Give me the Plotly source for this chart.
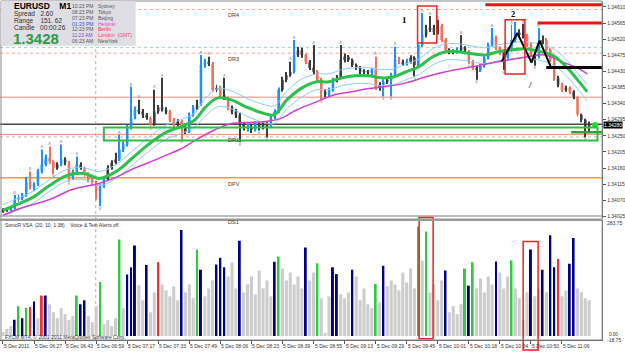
import plotly.graph_objects as go

W, H = 625, 352


def pxx(v):
    return v / W


def pxy(v):
    return 1 - v / H


# ---------------- price data (EURUSD, 2-minute candles) -------------
first_open = 1.34040
close = [1.34042, 1.34044, 1.34047, 1.34072, 1.34078, 1.34083, 1.34122, 1.34106, 1.34114, 1.34150,
         1.34170, 1.34189, 1.34178, 1.34161, 1.34170, 1.34184, 1.34175, 1.34134, 1.34150, 1.34170,
         1.34161, 1.34142, 1.34128, 1.34120, 1.34095, 1.34109, 1.34128, 1.34161, 1.34175, 1.34184,
         1.34212, 1.34226, 1.34273, 1.34301, 1.34323, 1.34318, 1.34309, 1.34301, 1.34281, 1.34318,
         1.34329, 1.34323, 1.34318, 1.34295, 1.34281, 1.34290, 1.34273, 1.34262, 1.34309, 1.34329,
         1.34337, 1.34448, 1.34457, 1.34451, 1.34379, 1.34384, 1.34365, 1.34356, 1.34329, 1.34318,
         1.34309, 1.34281, 1.34273, 1.34276, 1.34267, 1.34281, 1.34273, 1.34284, 1.34276, 1.34301,
         1.34318, 1.34379, 1.34407, 1.34420, 1.34429, 1.34476, 1.34490, 1.34476, 1.34457, 1.34440,
         1.34429, 1.34407, 1.34373, 1.34365, 1.34379, 1.34407, 1.34412, 1.34462, 1.34471, 1.34462,
         1.34448, 1.34440, 1.34429, 1.34429, 1.34426, 1.34434, 1.34384, 1.34393, 1.34401, 1.34407,
         1.34420, 1.34462, 1.34457, 1.34451, 1.34457, 1.34468, 1.34448, 1.34504, 1.34532, 1.34546,
         1.34551, 1.34540, 1.34557, 1.34518, 1.34490, 1.34485, 1.34485, 1.34490, 1.34496, 1.34485,
         1.34457, 1.34440, 1.34434, 1.34446, 1.34468, 1.34504, 1.34524, 1.34496, 1.34482, 1.34468,
         1.34490, 1.34518, 1.34532, 1.34538, 1.34529, 1.34504, 1.34476, 1.34471, 1.34512, 1.34518,
         1.34490, 1.34462, 1.34412, 1.34393, 1.34379, 1.34384, 1.34373, 1.34359, 1.34309, 1.34295,
         1.34276, 1.34280]
high = [1.34048, 1.34050, 1.34055, 1.34085, 1.34086, 1.34090, 1.34135, 1.34150, 1.34120, 1.34158,
        1.34212, 1.34198, 1.34220, 1.34182, 1.34176, 1.34226, 1.34190, 1.34180, 1.34156, 1.34192,
        1.34176, 1.34165, 1.34148, 1.34133, 1.34125, 1.34115, 1.34135, 1.34168, 1.34182, 1.34203,
        1.34253, 1.34235, 1.34280, 1.34387, 1.34332, 1.34351, 1.34325, 1.34314, 1.34305, 1.34379,
        1.34336, 1.34412, 1.34330, 1.34322, 1.34300, 1.34296, 1.34295, 1.34278, 1.34315, 1.34336,
        1.34351, 1.34476, 1.34465, 1.34471, 1.34456, 1.34393, 1.34390, 1.34412, 1.34360, 1.34335,
        1.34325, 1.34315, 1.34288, 1.34284, 1.34282, 1.34290, 1.34287, 1.34290, 1.34290, 1.34306,
        1.34324, 1.34385, 1.34415, 1.34428, 1.34457, 1.34518, 1.34498, 1.34496, 1.34480, 1.34462,
        1.34504, 1.34434, 1.34412, 1.34380, 1.34385, 1.34412, 1.34420, 1.34504, 1.34480, 1.34476,
        1.34466, 1.34452, 1.34445, 1.34436, 1.34434, 1.34440, 1.34471, 1.34400, 1.34408, 1.34413,
        1.34426, 1.34499, 1.34470, 1.34463, 1.34465, 1.34475, 1.34472, 1.34510, 1.34593, 1.34560,
        1.34585, 1.34560, 1.34574, 1.34563, 1.34523, 1.34495, 1.34492, 1.34497, 1.34532, 1.34500,
        1.34490, 1.34462, 1.34445, 1.34452, 1.34474, 1.34510, 1.34551, 1.34530, 1.34500, 1.34487,
        1.34497, 1.34560, 1.34568, 1.34548, 1.34563, 1.34535, 1.34510, 1.34480, 1.34551, 1.34530,
        1.34523, 1.34495, 1.34466, 1.34418, 1.34398, 1.34390, 1.34388, 1.34377, 1.34362, 1.34312,
        1.34298, 1.34290]
low = [1.34035, 1.34038, 1.34040, 1.34044, 1.34066, 1.34070, 1.34080, 1.34100, 1.34095, 1.34110,
       1.34145, 1.34165, 1.34172, 1.34142, 1.34155, 1.34165, 1.34168, 1.34122, 1.34128, 1.34145,
       1.34155, 1.34136, 1.34120, 1.34112, 1.34072, 1.34053, 1.34104, 1.34124, 1.34155, 1.34170,
       1.34180, 1.34205, 1.34220, 1.34268, 1.34296, 1.34310, 1.34300, 1.34295, 1.34276, 1.34278,
       1.34312, 1.34318, 1.34310, 1.34288, 1.34275, 1.34276, 1.34240, 1.34255, 1.34258, 1.34303,
       1.34323, 1.34333, 1.34440, 1.34445, 1.34373, 1.34372, 1.34358, 1.34350, 1.34322, 1.34310,
       1.34300, 1.34232, 1.34265, 1.34262, 1.34258, 1.34262, 1.34265, 1.34268, 1.34245, 1.34272,
       1.34296, 1.34313, 1.34373, 1.34400, 1.34415, 1.34424, 1.34470, 1.34468, 1.34450, 1.34434,
       1.34422, 1.34400, 1.34351, 1.34358, 1.34360, 1.34374, 1.34400, 1.34408, 1.34455, 1.34456,
       1.34442, 1.34434, 1.34423, 1.34422, 1.34420, 1.34420, 1.34378, 1.34376, 1.34360, 1.34395,
       1.34360, 1.34415, 1.34450, 1.34445, 1.34446, 1.34452, 1.34415, 1.34444, 1.34498, 1.34525,
       1.34540, 1.34532, 1.34533, 1.34512, 1.34483, 1.34478, 1.34478, 1.34480, 1.34486, 1.34478,
       1.34450, 1.34434, 1.34407, 1.34428, 1.34440, 1.34463, 1.34498, 1.34490, 1.34475, 1.34434,
       1.34462, 1.34485, 1.34512, 1.34526, 1.34522, 1.34498, 1.34470, 1.34446, 1.34466, 1.34506,
       1.34484, 1.34456, 1.34404, 1.34386, 1.34372, 1.34373, 1.34366, 1.34352, 1.34303, 1.34288,
       1.34245, 1.34262]
# candle colour: b = blue, r = salmon, k = dark
candle_tags = ("kkbbbbbrbb" "bbrrkbkrbb" "krrrrbbkkk" "bbbbbkkkrk" "kkkrrkrkbb"
               "kbbkrkrkrk" "kkkbkbkkkb" "bbkkkbkkrk" "krrkbbkkkk" "kkkkkbrkbk"
               "bbrkbkkbbk" "kkkrrkkbkk" "rrkbbbbrrk" "bbbkkrrkbk" "rrrkrkrkrkkk")

# fractal markers (candle numbers)
up_fractals = [3, 7, 10, 12, 15, 19, 30, 33, 35, 39, 41, 51, 53, 57, 74, 75, 80, 87, 96, 101,
               108, 110, 112, 118, 126, 131, 134, 138]
down_fractals = [5, 13, 17, 25, 38, 46, 61, 66, 68, 82, 98, 100, 106, 120, 122, 129, 137, 150]

# ---------------- moving averages (bar index, price) ----------------
ma_x = [0, 8.7, 15.3, 24, 32.7, 41.8, 49.5, 58.2, 66.3, 75, 83.7, 91.8, 99, 104.1, 110.7,
        117.3, 126, 134.7, 139.8, 146.4, 154.1, 161.7, 167.9, 174.5, 181.1, 188.3, 194.9,
        201.5, 207.7, 214.3, 221.4, 228.1, 234.7, 241.8, 248.5, 255.1, 262.2, 268.9, 275.5,
        282.7, 289.3, 295.9, 301]
ma_green = [1.34042, 1.34061, 1.34078, 1.34111, 1.34139, 1.34145, 1.34131, 1.34150, 1.34186,
            1.34226, 1.34259, 1.34276, 1.34295, 1.34329, 1.34356, 1.34351, 1.34329, 1.34312,
            1.34309, 1.34351, 1.34384, 1.34401, 1.34401, 1.34412, 1.34418, 1.34418, 1.34412,
            1.34415, 1.34429, 1.34443, 1.34471, 1.34485, 1.34485, 1.34479, 1.34476, 1.34485,
            1.34490, 1.34493, 1.34487, 1.34476, 1.34448, 1.34407, 1.34373]
band_up = [1.34058, 1.34078, 1.34095, 1.34128, 1.34156, 1.34161, 1.34150, 1.34170, 1.34206,
           1.34245, 1.34279, 1.34295, 1.34315, 1.34354, 1.34382, 1.34376, 1.34354, 1.34337,
           1.34334, 1.34376, 1.34409, 1.34423, 1.34423, 1.34435, 1.34440, 1.34440, 1.34435,
           1.34437, 1.34451, 1.34465, 1.34493, 1.34507, 1.34507, 1.34501, 1.34496, 1.34504,
           1.34510, 1.34513, 1.34507, 1.34496, 1.34468, 1.34426, 1.34393]
band_dn = [1.34025, 1.34045, 1.34061, 1.34095, 1.34123, 1.34128, 1.34111, 1.34131, 1.34167,
           1.34206, 1.34240, 1.34256, 1.34276, 1.34304, 1.34331, 1.34326, 1.34304, 1.34287,
           1.34284, 1.34326, 1.34359, 1.34379, 1.34379, 1.34390, 1.34396, 1.34396, 1.34390,
           1.34393, 1.34407, 1.34421, 1.34448, 1.34462, 1.34462, 1.34457, 1.34451, 1.34460,
           1.34465, 1.34468, 1.34462, 1.34451, 1.34423, 1.34382, 1.34348]
slow_x = [0, 8.7, 24, 35.7, 49.5, 58.2, 66.3, 75, 83.7, 91.8, 100.5, 109.2, 117.3, 126, 134.7,
          142.9, 151.5, 160.2, 170.9, 179.6, 188.3, 196.4, 207.7, 217.9, 228.1, 241.8, 255.1,
          267.3, 279.1, 287.8, 295.9, 301]
slow_ma = [1.34028, 1.34047, 1.34072, 1.34100, 1.34117, 1.34134, 1.34156, 1.34175, 1.34195,
           1.34214, 1.34242, 1.34267, 1.34284, 1.34287, 1.34290, 1.34298, 1.34323, 1.34342,
           1.34365, 1.34373, 1.34382, 1.34387, 1.34398, 1.34415, 1.34429, 1.34443, 1.34457,
           1.34468, 1.34476, 1.34457, 1.34440, 1.34423]

# ---------------- volume (SonicR VSA) ----------------
volume = [10, 18, 25, 41, 75, 45, 71, 73, 87, 45,
          102, 102, 80, 60, 45, 70, 55, 40, 50, 102,
          80, 90, 50, 35, 75, 136, 30, 40, 25, 45,
          243, 70, 155, 173, 228, 128, 90, 179, 60, 110,
          186, 130, 115, 100, 125, 90, 267, 110, 130, 95,
          218, 167, 100, 120, 140, 180, 197, 173, 150, 185,
          120, 240, 110, 130, 150, 105, 165, 120, 140, 100,
          187, 200, 170, 140, 160, 130, 150, 120, 223, 140,
          160, 183, 95, 8, 100, 173, 156, 105, 95, 110,
          167, 150, 90, 120, 80, 70, 131, 85, 177, 125,
          140, 130, 115, 160, 135, 170, 120, 276, 190, 263,
          110, 130, 90, 140, 165, 60, 75, 55, 80, 170,
          127, 186, 120, 145, 110, 150, 130, 188, 160, 120,
          150, 190, 120, 95, 40, 110, 218, 100, 120, 167,
          110, 254, 173, 194, 100, 115, 182, 247, 120, 110, 95, 90]
# g = gray, n = navy, e = green, r = red
volume_tags = ("gggnenerng" "rnggggggge" "nngggegggg" "egnnnggngg" "rgggggnggg"
               "engggnnngg" "gngggggggg" "neggggggng" "gegggnnggg" "ngggggegng"
               "gggggggege" "ggggngggge" "negggggngg" "geggggnggn" "gnnrggnngggg")

# ---------------- axes texts ----------------
time_tick_idx = [0, 16, 32, 48, 64, 80, 96, 112, 128, 144, 160, 176, 192, 208, 224, 240, 256, 272, 288]
time_labels = ["5 Dec 2011", "5 Dec 06:27", "5 Dec 06:43", "5 Dec 06:59", "5 Dec 07:17",
               "5 Dec 07:33", "5 Dec 07:49", "5 Dec 08:06", "5 Dec 08:23", "5 Dec 08:39",
               "5 Dec 08:55", "5 Dec 09:13", "5 Dec 09:29", "5 Dec 09:45", "5 Dec 10:01",
               "5 Dec 10:18", "5 Dec 10:34", "5 Dec 10:50", "5 Dec 11:06"]
price_ticks = [1.34610, 1.34565, 1.34520, 1.34475, 1.34430, 1.34385, 1.34340, 1.34295,
               1.34250, 1.34205, 1.34160, 1.34115, 1.34070, 1.34025]

# pivot levels: (price, colour, dash, width, label)
levels = [(1.34603, "#F2A8A0", "dot", 1, "DR4"),
          (1.34497, "#9AD8B8", "dot", 1, ""),
          (1.34481, "#F2A8A0", "dot", 1, "DR3"),
          (1.34358, "#F08C7C", "solid", 1, ""),
          (1.34282, "#4A4A4A", "solid", 1.5, ""),
          (1.34254, "#F08C7C", "solid", 1, "DR1"),
          (1.34247, "#BBBBBB", "dot", 1, ""),
          (1.34133, "#F0A030", "solid", 1.5, "DPV"),
          (1.34026, "#A8A8A8", "solid", 1.5, "DS1")]

assert len(close) == len(high) == len(low) == len(candle_tags) == len(volume) == len(volume_tags)

n = len(close)
opens = [first_open] + close[:-1]
cx = [2 * k for k in range(n)]
cmap = {"b": "#1E90FF", "r": "#F2705C", "k": "#3C3C3C"}
ccol = [cmap[t] for t in candle_tags]

FONT = "Liberation Sans"
XR = [-1.53, 308.7]
XD = [0.0, pxx(608)]

fig = go.Figure()

# candles: wicks and bodies
fig.add_trace(go.Bar(x=cx, y=[h - l for h, l in zip(high, low)], base=low, width=0.5,
                     marker=dict(color=ccol, line=dict(width=0)), xaxis="x", yaxis="y"))
fig.add_trace(go.Bar(x=cx, y=[max(abs(c - o), 0.000015) for o, c in zip(opens, close)],
                     base=[min(o, c) for o, c in zip(opens, close)], width=1.3,
                     marker=dict(color=ccol, line=dict(width=0)), xaxis="x", yaxis="y"))

# moving averages
fig.add_trace(go.Scatter(x=ma_x, y=band_up, mode="lines", line=dict(color="#8CCBF2", width=1, shape="spline")))
fig.add_trace(go.Scatter(x=ma_x, y=band_dn, mode="lines", line=dict(color="#8CCBF2", width=1, shape="spline")))
fig.add_trace(go.Scatter(x=slow_x, y=slow_ma, mode="lines", line=dict(color="#D040D0", width=1.5, shape="spline")))
fig.add_trace(go.Scatter(x=ma_x, y=ma_green, mode="lines", line=dict(color="#2CC04C", width=3, shape="spline")))

# fractals
fig.add_trace(go.Scatter(x=[2 * k for k in up_fractals], y=[high[k] for k in up_fractals],
                         mode="text", text=["∧"] * len(up_fractals), textposition="top center",
                         textfont=dict(family="DejaVu Sans", size=5, color="#8A8A8A")))
fig.add_trace(go.Scatter(x=[2 * k for k in down_fractals], y=[low[k] for k in down_fractals],
                         mode="text", text=["∨"] * len(down_fractals), textposition="bottom center",
                         textfont=dict(family="DejaVu Sans", size=5, color="#8A8A8A")))

# markup: zigzag, green dot
zz_x = [257.0, 265.0, 272.3, 276.5, 282.5]
zz_y = [1.34458, 1.34537, 1.34455, 1.34516, 1.34439]
fig.add_trace(go.Scatter(x=zz_x, y=zz_y, mode="lines", line=dict(color="#000000", width=2)))
fig.add_trace(go.Scatter(x=[305], y=[1.34280], mode="markers",
                         marker=dict(color="#22DD22", size=6, line=dict(width=0))))

# volume
vmap = {"g": "#CDCDCD", "n": "#00008B", "e": "#2FCB3F", "r": "#FF2A2A"}
fig.add_trace(go.Bar(x=cx, y=volume, width=[1.6 if t == "g" else 1.0 for t in volume_tags],
                     marker=dict(color=[vmap[t] for t in volume_tags], line=dict(width=0)),
                     xaxis="x2", yaxis="y2"))

shapes = []
for price, col, dash, wd, lab in levels:
    shapes.append(dict(type="line", xref="paper", yref="y", x0=0, x1=XD[1], y0=price, y1=price,
                       line=dict(color=col, width=wd, dash=dash), layer="below"))
# vertical separator (day)
shapes.append(dict(type="line", xref="x", yref="paper", x0=47.8, x1=47.8, y0=pxy(341), y1=pxy(2),
                   line=dict(color="#B0B0B0", width=1, dash="dot"), layer="below"))
# green zone rectangle
shapes.append(dict(type="rect", xref="x", yref="y", x0=52, x1=306.3, y0=1.34237, y1=1.34273,
                   line=dict(color="#33BB44", width=2)))
shapes.append(dict(type="line", xref="x", yref="y", x0=292.7, x1=310, y0=1.34260, y1=1.34260,
                   line=dict(color="#22AA33", width=2.5)))
# red boxes and lines
shapes.append(dict(type="rect", xref="x", yref="y", x0=213.6, x1=223.5, y0=1.34509, y1=1.34613,
                   line=dict(color="#EE2222", width=1.5)))
shapes.append(dict(type="rect", xref="x", yref="y", x0=258.7, x1=268.9, y0=1.34423, y1=1.34574,
                   line=dict(color="#EE2222", width=1.5)))
shapes.append(dict(type="line", xref="x", yref="y", x0=248.5, x1=310, y0=1.34616, y1=1.34616,
                   line=dict(color="#EE1111", width=3)))
shapes.append(dict(type="line", xref="x", yref="y", x0=275.4, x1=310, y0=1.34565, y1=1.34565,
                   line=dict(color="#EE1111", width=3)))
shapes.append(dict(type="line", xref="x", yref="y", x0=279.9, x1=310.5, y0=1.34441, y1=1.34441,
                   line=dict(color="#000000", width=3)))
shapes.append(dict(type="rect", xref="x", yref="paper", x0=214.4, x1=221.6, y0=pxy(339.7), y1=pxy(218),
                   line=dict(color="#EE2222", width=1.5)))
shapes.append(dict(type="rect", xref="x", yref="paper", x0=268.0, x1=275.7, y0=pxy(351), y1=pxy(242.3),
                   line=dict(color="#EE2222", width=1.5)))
# frame and panel separator
shapes.append(dict(type="rect", xref="paper", yref="paper", x0=pxx(1), x1=XD[1], y0=pxy(341), y1=pxy(1),
                   line=dict(color="#8A8A8A", width=1)))
shapes.append(dict(type="line", xref="paper", yref="paper", x0=0, x1=XD[1], y0=pxy(220.5), y1=pxy(220.5),
                   line=dict(color="#9A9A9A", width=2.5)))
# info box
shapes.append(dict(type="rect", xref="paper", yref="paper", x0=pxx(1), x1=pxx(137), y0=pxy(46), y1=pxy(1),
                   fillcolor="#DEDEE4", line=dict(width=0), layer="above"))

ann = []


def txt(x, y, s, size=5, color="#303030", bold=False, family=FONT, xanchor="left", **kw):
    if bold:
        s = "<b>" + s + "</b>"
    d = dict(x=pxx(x), y=pxy(y), xref="paper", yref="paper", text=s, showarrow=False,
             xanchor=xanchor, yanchor="middle", font=dict(size=size, color=color, family=family))
    d.update(kw)
    ann.append(d)


# info panel texts
txt(12, 6, "EURUSD    M1", size=8.5, color="#000000", bold=True)
txt(12, 14.3, "Spread   2.60", size=6.5)
txt(12, 21.2, "Range    151. 62", size=6.5)
txt(12, 28, "Candle   00:00:26", size=6.5)
txt(11, 38.5, "1.3428", size=15, color="#2E9A48", bold=True)
clock_rows = [6, 12, 17.7, 23.7, 29.3, 35, 41]
clock_times = ["10:23 PM", "08:23 PM", "07:23 PM", "01:23 PM", "12:23 PM", "11:23 AM", "06:23 AM"]
clock_names = ["Sydney", "Tokyo", "Beijing", "Helsinki", "Berlin", "London  (GMT)", "NewYork"]
time_cols = ["#555555", "#555555", "#555555", "#3050E0", "#555555", "#A040D0", "#555555"]
name_cols = ["#555555", "#555555", "#555555", "#F040C0", "#F03030", "#F04868", "#555555"]
for yy, tt, nm, c1, c2 in zip(clock_rows, clock_times, clock_names, time_cols, name_cols):
    txt(71, yy, tt, size=5, color=c1)
    txt(97, yy, nm, size=5, color=c2)

# level labels
for price, col, dash, wd, lab in levels:
    if lab:
        ann.append(dict(x=114.8, y=price, xref="x", yref="y", text=lab, showarrow=False,
                        xanchor="left", yanchor="top", yshift=-1,
                        font=dict(size=5.5, color="#404040", family=FONT)))

# markup texts
ann.append(dict(x=pxx(408.5), y=pxy(14), xref="paper", yref="paper", text="<b>1</b>", showarrow=False,
                borderpad=0, font=dict(size=9, color="#000000", family="Liberation Serif")))
ann.append(dict(x=pxx(521), y=pxy(8.5), xref="paper", yref="paper", text="<b>2</b>", showarrow=False,
                borderpad=0, font=dict(size=8.5, color="#000000", family="Liberation Serif")))
ann.append(dict(x=pxx(538.5), y=pxy(80), xref="paper", yref="paper", text="<b><i>/</i></b>", showarrow=False,
                borderpad=0, font=dict(size=8, color="#000000", family="Liberation Serif")))

# current price box
ann.append(dict(x=pxx(609), y=1.34280, xref="paper", yref="y", text="1.34280", showarrow=False,
                xanchor="left", yanchor="middle", bgcolor="#000000", borderpad=0,
                font=dict(size=5, color="#FFFFFF", family=FONT)))

# volume panel texts
txt(3, 225.5, "SonicR VSA  (20, 10, 1.38)    Voice & Text Alerts off.", size=5, color="#333333")
txt(3, 337.5, "FXCM MT4, © 2001-2011 MetaQuotes Software Corp.", size=5, color="#333333")
txt(610.5, 224, "283.75", size=5, color="#333333")
txt(613, 335, "0.00", size=4.5, color="#333333")
txt(610.5, 340.5, "-18.75", size=5, color="#333333")

# time labels
for i, lab in zip(time_tick_idx, time_labels):
    ann.append(dict(x=i, y=pxy(346.5), xref="x2", yref="paper", text=lab, showarrow=False,
                    xanchor="left", yanchor="middle", xshift=-1,
                    font=dict(size=5, color="#333333", family=FONT)))

fig.update_layout(
    width=W, height=H, autosize=False,
    margin=dict(l=0, r=0, t=0, b=0),
    paper_bgcolor="#FFFFFF", plot_bgcolor="#FFFFFF",
    showlegend=False, barmode="overlay",
    xaxis=dict(domain=XD, range=XR, anchor="y", showticklabels=False, showgrid=False,
               zeroline=False, showline=False, ticks=""),
    yaxis=dict(domain=[pxy(219), pxy(2)], range=[1.340194, 1.346239], anchor="x", side="right",
               tickvals=price_ticks, ticktext=["%.5f" % p for p in price_ticks],
               tickfont=dict(size=5, color="#333333", family=FONT), ticks="outside", ticklen=3,
               tickcolor="#555555", showgrid=False, zeroline=False, showline=True,
               linecolor="#555555", linewidth=1),
    xaxis2=dict(domain=XD, range=XR, anchor="y2", tickvals=time_tick_idx, showticklabels=False,
                ticks="outside", ticklen=3, tickcolor="#555555", showgrid=False, zeroline=False,
                showline=True, linecolor="#555555", linewidth=1),
    yaxis2=dict(domain=[pxy(341), pxy(221)], range=[-10.04, 291.3], anchor="x2", side="right",
                showticklabels=False, ticks="", showgrid=False, zeroline=False, showline=True,
                linecolor="#555555", linewidth=1),
    shapes=shapes, annotations=ann,
)

fig.write_html("out.html")
